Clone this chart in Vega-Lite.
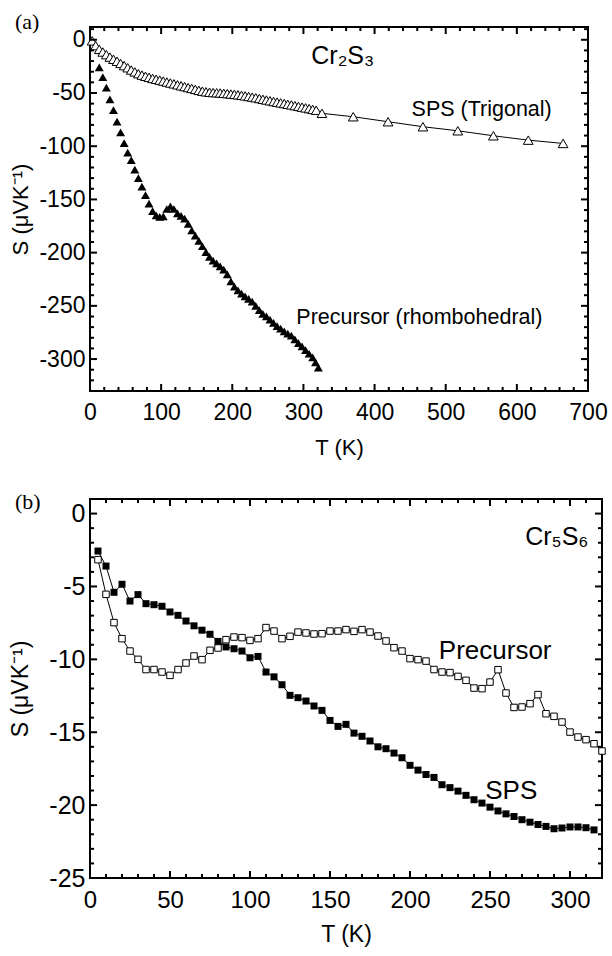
{
  "$schema": "https://vega.github.io/schema/vega-lite/v6.json",
  "background": "white",
  "padding": {"left": 8, "top": 10, "right": 5, "bottom": 5},
  "spacing": 31,
  "config": {
    "view": {"stroke": "black", "strokeWidth": 2},
    "axis": {
      "domain": false, "grid": false, "ticks": false,
      "labelFont": "Liberation Sans", "labelFontSize": 23, "labelColor": "black",
      "titleFont": "Liberation Sans", "titleFontSize": 22, "titleFontWeight": "normal", "titleColor": "black",
      "labelFlush": false, "labelOverlap": false, "labelBound": false
    },
    "title": {"font": "Liberation Serif", "fontSize": 22, "fontWeight": "normal", "color": "black", "anchor": "start", "frame": "bounds"}
  },
  "datasets": {
    "a_sps": [
      {"T": 3, "S": -1}, {"T": 8, "S": -5.5}, {"T": 13, "S": -9}, {"T": 18, "S": -11.5}, {"T": 23, "S": -14},
      {"T": 28, "S": -16.3}, {"T": 33, "S": -18.3}, {"T": 38, "S": -20.2}, {"T": 43, "S": -22.2}, {"T": 48, "S": -24.3},
      {"T": 53, "S": -26.3}, {"T": 58, "S": -28.4}, {"T": 63, "S": -30.2}, {"T": 68, "S": -31.9}, {"T": 73, "S": -33.2},
      {"T": 78, "S": -34.3}, {"T": 83, "S": -35.3}, {"T": 88, "S": -36.3}, {"T": 93, "S": -37.1}, {"T": 98, "S": -37.9},
      {"T": 103, "S": -38.8}, {"T": 108, "S": -39.7}, {"T": 113, "S": -40.6}, {"T": 118, "S": -41.4}, {"T": 123, "S": -42.3},
      {"T": 128, "S": -43.2}, {"T": 133, "S": -44.0}, {"T": 138, "S": -44.9}, {"T": 143, "S": -45.7}, {"T": 148, "S": -46.6},
      {"T": 153, "S": -47.5}, {"T": 158, "S": -48.3}, {"T": 163, "S": -48.9}, {"T": 168, "S": -49.3}, {"T": 173, "S": -49.6},
      {"T": 178, "S": -49.8}, {"T": 183, "S": -50.0}, {"T": 188, "S": -50.3}, {"T": 193, "S": -50.6}, {"T": 198, "S": -51.0},
      {"T": 203, "S": -51.3}, {"T": 208, "S": -51.7}, {"T": 213, "S": -52.2}, {"T": 218, "S": -52.7}, {"T": 223, "S": -53.3},
      {"T": 228, "S": -53.9}, {"T": 233, "S": -54.5}, {"T": 238, "S": -55.2}, {"T": 243, "S": -55.9}, {"T": 248, "S": -56.6},
      {"T": 253, "S": -57.3}, {"T": 258, "S": -58.0}, {"T": 263, "S": -58.6}, {"T": 268, "S": -59.3}, {"T": 273, "S": -59.9},
      {"T": 278, "S": -60.6}, {"T": 283, "S": -61.2}, {"T": 288, "S": -61.9}, {"T": 293, "S": -62.6}, {"T": 298, "S": -63.3},
      {"T": 303, "S": -64.0}, {"T": 308, "S": -64.7}, {"T": 313, "S": -65.4}, {"T": 318, "S": -66.2},
      {"T": 326, "S": -69.1}, {"T": 370, "S": -72.3}, {"T": 419, "S": -77.0}, {"T": 468, "S": -81.7},
      {"T": 517, "S": -85.5}, {"T": 567, "S": -90.2}, {"T": 616, "S": -94.3}, {"T": 665, "S": -97.4}
    ],
    "a_pre": [
      {"T": 13, "S": -26}, {"T": 18, "S": -35}, {"T": 23, "S": -45}, {"T": 28, "S": -56}, {"T": 33, "S": -66},
      {"T": 38, "S": -77}, {"T": 43, "S": -87}, {"T": 48, "S": -97}, {"T": 53, "S": -106}, {"T": 58, "S": -113},
      {"T": 63, "S": -122}, {"T": 68, "S": -130}, {"T": 73, "S": -138}, {"T": 78, "S": -146}, {"T": 83, "S": -154},
      {"T": 88, "S": -161}, {"T": 93, "S": -165}, {"T": 98, "S": -166.5}, {"T": 103, "S": -166}, {"T": 108, "S": -159},
      {"T": 113, "S": -156.5}, {"T": 118, "S": -159}, {"T": 123, "S": -163}, {"T": 128, "S": -165.5}, {"T": 133, "S": -168},
      {"T": 138, "S": -173}, {"T": 143, "S": -179}, {"T": 148, "S": -184}, {"T": 153, "S": -189}, {"T": 158, "S": -194},
      {"T": 163, "S": -199.5}, {"T": 168, "S": -204}, {"T": 173, "S": -207.5}, {"T": 178, "S": -210}, {"T": 183, "S": -213},
      {"T": 188, "S": -216}, {"T": 193, "S": -220.5}, {"T": 198, "S": -227}, {"T": 203, "S": -232}, {"T": 208, "S": -235.5},
      {"T": 213, "S": -238.5}, {"T": 218, "S": -241}, {"T": 223, "S": -243.5}, {"T": 228, "S": -246}, {"T": 233, "S": -250},
      {"T": 238, "S": -254}, {"T": 243, "S": -257.5}, {"T": 248, "S": -260}, {"T": 253, "S": -263}, {"T": 258, "S": -266},
      {"T": 263, "S": -269}, {"T": 268, "S": -271.5}, {"T": 273, "S": -274}, {"T": 278, "S": -276}, {"T": 283, "S": -278},
      {"T": 288, "S": -281.5}, {"T": 293, "S": -285}, {"T": 298, "S": -288}, {"T": 303, "S": -291.5}, {"T": 308, "S": -295},
      {"T": 313, "S": -298.5}, {"T": 317, "S": -303}, {"T": 321, "S": -308}
    ],
    "a_labels": [
      {"T": 311, "S": -15, "label": "Cr₂S₃", "size": 25},
      {"T": 452, "S": -66, "label": "SPS (Trigonal)", "size": 21.5},
      {"T": 290, "S": -261, "label": "Precursor (rhombohedral)", "size": 21.5}
    ],
    "a_xmaj": [{"v": 0}, {"v": 100}, {"v": 200}, {"v": 300}, {"v": 400}, {"v": 500}, {"v": 600}, {"v": 700}],
    "a_xmin": [{"v": 20}, {"v": 40}, {"v": 60}, {"v": 80}, {"v": 120}, {"v": 140}, {"v": 160}, {"v": 180}, {"v": 220}, {"v": 240}, {"v": 260}, {"v": 280}, {"v": 320}, {"v": 340}, {"v": 360}, {"v": 380}, {"v": 420}, {"v": 440}, {"v": 460}, {"v": 480}, {"v": 520}, {"v": 540}, {"v": 560}, {"v": 580}, {"v": 620}, {"v": 640}, {"v": 660}, {"v": 680}],
    "a_ymaj": [{"v": -300}, {"v": -250}, {"v": -200}, {"v": -150}, {"v": -100}, {"v": -50}, {"v": 0}],
    "a_ymin": [{"v": -320}, {"v": -310}, {"v": -290}, {"v": -280}, {"v": -270}, {"v": -260}, {"v": -240}, {"v": -230}, {"v": -220}, {"v": -210}, {"v": -190}, {"v": -180}, {"v": -170}, {"v": -160}, {"v": -140}, {"v": -130}, {"v": -120}, {"v": -110}, {"v": -90}, {"v": -80}, {"v": -70}, {"v": -60}, {"v": -40}, {"v": -30}, {"v": -20}, {"v": -10}, {"v": 10}],
    "b_sps": [
      {"T": 5, "S": -2.57}, {"T": 10, "S": -3.6}, {"T": 15, "S": -5.4}, {"T": 20, "S": -4.85}, {"T": 25, "S": -6.0},
      {"T": 30, "S": -5.56}, {"T": 35, "S": -6.18}, {"T": 40, "S": -6.25}, {"T": 45, "S": -6.36}, {"T": 50, "S": -6.75},
      {"T": 55, "S": -6.98}, {"T": 60, "S": -7.37}, {"T": 65, "S": -7.7}, {"T": 70, "S": -8.0}, {"T": 75, "S": -8.28},
      {"T": 80, "S": -8.77}, {"T": 85, "S": -9.15}, {"T": 90, "S": -9.27}, {"T": 95, "S": -9.43}, {"T": 100, "S": -9.89},
      {"T": 105, "S": -9.8}, {"T": 110, "S": -10.87}, {"T": 115, "S": -11.2}, {"T": 120, "S": -11.74}, {"T": 125, "S": -12.47},
      {"T": 130, "S": -12.63}, {"T": 135, "S": -12.86}, {"T": 140, "S": -13.2}, {"T": 145, "S": -13.5}, {"T": 150, "S": -14.19},
      {"T": 155, "S": -14.6}, {"T": 160, "S": -14.46}, {"T": 165, "S": -15.06}, {"T": 170, "S": -15.28}, {"T": 175, "S": -15.6},
      {"T": 180, "S": -16.0}, {"T": 185, "S": -16.13}, {"T": 190, "S": -16.43}, {"T": 195, "S": -16.75}, {"T": 200, "S": -17.27},
      {"T": 205, "S": -17.6}, {"T": 210, "S": -17.9}, {"T": 215, "S": -18.1}, {"T": 220, "S": -18.6}, {"T": 225, "S": -18.8},
      {"T": 230, "S": -19.04}, {"T": 235, "S": -19.33}, {"T": 240, "S": -19.63}, {"T": 245, "S": -19.86}, {"T": 250, "S": -20.14},
      {"T": 255, "S": -20.4}, {"T": 260, "S": -20.6}, {"T": 265, "S": -20.78}, {"T": 270, "S": -21.0}, {"T": 275, "S": -21.17},
      {"T": 280, "S": -21.33}, {"T": 285, "S": -21.46}, {"T": 290, "S": -21.62}, {"T": 295, "S": -21.57}, {"T": 300, "S": -21.5},
      {"T": 305, "S": -21.5}, {"T": 310, "S": -21.55}, {"T": 315, "S": -21.7}
    ],
    "b_pre": [
      {"T": 5, "S": -3.16}, {"T": 10, "S": -5.54}, {"T": 15, "S": -7.48}, {"T": 20, "S": -8.58}, {"T": 25, "S": -9.43},
      {"T": 30, "S": -10.0}, {"T": 35, "S": -10.7}, {"T": 40, "S": -10.7}, {"T": 45, "S": -10.87}, {"T": 50, "S": -11.1},
      {"T": 55, "S": -10.7}, {"T": 60, "S": -10.25}, {"T": 65, "S": -9.77}, {"T": 70, "S": -10.02}, {"T": 75, "S": -9.38},
      {"T": 80, "S": -9.22}, {"T": 85, "S": -8.65}, {"T": 90, "S": -8.47}, {"T": 95, "S": -8.51}, {"T": 100, "S": -8.7},
      {"T": 105, "S": -8.58}, {"T": 110, "S": -7.82}, {"T": 115, "S": -8.06}, {"T": 120, "S": -8.58}, {"T": 125, "S": -8.42},
      {"T": 130, "S": -8.13}, {"T": 135, "S": -8.19}, {"T": 140, "S": -8.26}, {"T": 145, "S": -8.24}, {"T": 150, "S": -8.06},
      {"T": 155, "S": -8.06}, {"T": 160, "S": -7.96}, {"T": 165, "S": -8.08}, {"T": 170, "S": -7.96}, {"T": 175, "S": -8.13},
      {"T": 180, "S": -8.4}, {"T": 185, "S": -8.74}, {"T": 190, "S": -9.2}, {"T": 195, "S": -9.43}, {"T": 200, "S": -9.95},
      {"T": 205, "S": -10.02}, {"T": 210, "S": -10.12}, {"T": 215, "S": -10.7}, {"T": 220, "S": -10.87}, {"T": 225, "S": -10.91},
      {"T": 230, "S": -11.17}, {"T": 235, "S": -11.44}, {"T": 240, "S": -11.97}, {"T": 245, "S": -12.01}, {"T": 250, "S": -11.56},
      {"T": 255, "S": -10.71}, {"T": 260, "S": -12.31}, {"T": 265, "S": -13.3}, {"T": 270, "S": -13.27}, {"T": 275, "S": -13.04},
      {"T": 280, "S": -12.42}, {"T": 285, "S": -13.73}, {"T": 290, "S": -13.91}, {"T": 295, "S": -14.3}, {"T": 300, "S": -14.99},
      {"T": 305, "S": -15.33}, {"T": 310, "S": -15.51}, {"T": 315, "S": -15.79}, {"T": 320, "S": -16.29}
    ],
    "b_labels": [
      {"T": 272, "S": -1.6, "label": "Cr₅S₆", "size": 25},
      {"T": 218, "S": -9.45, "label": "Precursor", "size": 26},
      {"T": 247, "S": -19.0, "label": "SPS", "size": 26}
    ],
    "b_xmaj": [{"v": 0}, {"v": 50}, {"v": 100}, {"v": 150}, {"v": 200}, {"v": 250}, {"v": 300}],
    "b_xmin": [{"v": 10}, {"v": 20}, {"v": 30}, {"v": 40}, {"v": 60}, {"v": 70}, {"v": 80}, {"v": 90}, {"v": 110}, {"v": 120}, {"v": 130}, {"v": 140}, {"v": 160}, {"v": 170}, {"v": 180}, {"v": 190}, {"v": 210}, {"v": 220}, {"v": 230}, {"v": 240}, {"v": 260}, {"v": 270}, {"v": 280}, {"v": 290}, {"v": 310}],
    "b_ymaj": [{"v": -25}, {"v": -20}, {"v": -15}, {"v": -10}, {"v": -5}, {"v": 0}],
    "b_ymin": [{"v": -24}, {"v": -23}, {"v": -22}, {"v": -21}, {"v": -19}, {"v": -18}, {"v": -17}, {"v": -16}, {"v": -14}, {"v": -13}, {"v": -12}, {"v": -11}, {"v": -9}, {"v": -8}, {"v": -7}, {"v": -6}, {"v": -4}, {"v": -3}, {"v": -2}, {"v": -1}]
  },
  "vconcat": [
    {
      "title": {"text": "(a)", "offset": -8, "dx": 6},
      "width": 498,
      "height": 364,
      "resolve": {"axis": {"x": "independent", "y": "independent"}},
      "layer": [
        {
          "data": {"name": "a_sps"},
          "mark": {"type": "line", "color": "black", "strokeWidth": 1},
          "encoding": {
            "x": {"field": "T", "type": "quantitative", "scale": {"domain": [0, 700], "nice": false, "zero": false},
              "axis": {"orient": "bottom", "title": "T (K)", "values": [0,100,200,300,400,500,600,700],
                "labelExpr": "'' + datum.value", "labelPadding": 10, "titleY": 63, "titleBaseline": "alphabetic"}},
            "y": {"field": "S", "type": "quantitative", "scale": {"domain": [-330, 12], "nice": false, "zero": false},
              "axis": {"orient": "left", "title": "S (μVK⁻¹)", "values": [-300,-250,-200,-150,-100,-50,0],
                "labelExpr": "'' + datum.value", "labelPadding": 5, "titleX": -63, "titleBaseline": "alphabetic"}}
          }
        },
        {
          "data": {"name": "a_sps"},
          "mark": {"type": "point", "shape": "triangle-up", "filled": true, "fill": "white", "stroke": "black", "strokeWidth": 1, "size": 95, "opacity": 1},
          "encoding": {"x": {"field": "T", "type": "quantitative", "axis": null}, "y": {"field": "S", "type": "quantitative", "axis": null}}
        },
        {
          "data": {"name": "a_pre"},
          "mark": {"type": "point", "shape": "triangle-up", "filled": true, "color": "black", "size": 80, "opacity": 1},
          "encoding": {"x": {"field": "T", "type": "quantitative", "axis": null}, "y": {"field": "S", "type": "quantitative", "axis": null}}
        },
        {
          "data": {"name": "a_labels"},
          "mark": {"type": "text", "align": "left", "baseline": "middle", "font": "Liberation Sans", "color": "black"},
          "encoding": {
            "x": {"field": "T", "type": "quantitative", "axis": null},
            "y": {"field": "S", "type": "quantitative", "axis": null},
            "text": {"field": "label"},
            "size": {"field": "size", "type": "quantitative", "scale": null}
          }
        },
        {"data": {"name": "a_xmaj"}, "mark": {"type": "rule", "color": "black", "strokeWidth": 2},
          "encoding": {"x": {"field": "v", "type": "quantitative", "axis": null}, "y": {"datum": -330, "type": "quantitative", "axis": null}, "y2": {"datum": -323.4}}},
        {"data": {"name": "a_xmaj"}, "mark": {"type": "rule", "color": "black", "strokeWidth": 2},
          "encoding": {"x": {"field": "v", "type": "quantitative", "axis": null}, "y": {"datum": 12, "type": "quantitative", "axis": null}, "y2": {"datum": 5.4}}},
        {"data": {"name": "a_xmin"}, "mark": {"type": "rule", "color": "black", "strokeWidth": 2},
          "encoding": {"x": {"field": "v", "type": "quantitative", "axis": null}, "y": {"datum": -330, "type": "quantitative", "axis": null}, "y2": {"datum": -326.2}}},
        {"data": {"name": "a_xmin"}, "mark": {"type": "rule", "color": "black", "strokeWidth": 2},
          "encoding": {"x": {"field": "v", "type": "quantitative", "axis": null}, "y": {"datum": 12, "type": "quantitative", "axis": null}, "y2": {"datum": 8.2}}},
        {"data": {"name": "a_ymaj"}, "mark": {"type": "rule", "color": "black", "strokeWidth": 2},
          "encoding": {"y": {"field": "v", "type": "quantitative", "axis": null}, "x": {"datum": 0, "type": "quantitative", "axis": null}, "x2": {"datum": 9.8}}},
        {"data": {"name": "a_ymaj"}, "mark": {"type": "rule", "color": "black", "strokeWidth": 2},
          "encoding": {"y": {"field": "v", "type": "quantitative", "axis": null}, "x": {"datum": 700, "type": "quantitative", "axis": null}, "x2": {"datum": 690.2}}},
        {"data": {"name": "a_ymin"}, "mark": {"type": "rule", "color": "black", "strokeWidth": 2},
          "encoding": {"y": {"field": "v", "type": "quantitative", "axis": null}, "x": {"datum": 0, "type": "quantitative", "axis": null}, "x2": {"datum": 5.6}}},
        {"data": {"name": "a_ymin"}, "mark": {"type": "rule", "color": "black", "strokeWidth": 2},
          "encoding": {"y": {"field": "v", "type": "quantitative", "axis": null}, "x": {"datum": 700, "type": "quantitative", "axis": null}, "x2": {"datum": 694.4}}}
      ]
    },
    {
      "title": {"text": "(b)", "offset": -16, "dx": 6},
      "width": 512,
      "height": 379,
      "resolve": {"axis": {"x": "independent", "y": "independent"}},
      "layer": [
        {
          "data": {"name": "b_pre"},
          "mark": {"type": "line", "color": "black", "strokeWidth": 1},
          "encoding": {
            "x": {"field": "T", "type": "quantitative", "scale": {"domain": [0, 320], "nice": false, "zero": false},
              "axis": {"orient": "bottom", "title": "T (K)", "values": [0,50,100,150,200,250,300],
                "labelExpr": "'' + datum.value", "labelPadding": 10, "labelFontSize": 24, "titleFontSize": 23, "titleY": 63, "titleBaseline": "alphabetic"}},
            "y": {"field": "S", "type": "quantitative", "scale": {"domain": [-25, 1], "nice": false, "zero": false},
              "axis": {"orient": "left", "title": "S (μVK⁻¹)", "values": [-25,-20,-15,-10,-5,0],
                "labelExpr": "'' + datum.value", "labelPadding": 5, "labelFontSize": 25, "titleFontSize": 23, "titleX": -63, "titleBaseline": "alphabetic"}}
          }
        },
        {
          "data": {"name": "b_sps"},
          "mark": {"type": "line", "color": "black", "strokeWidth": 1},
          "encoding": {"x": {"field": "T", "type": "quantitative", "axis": null}, "y": {"field": "S", "type": "quantitative", "axis": null}}
        },
        {
          "data": {"name": "b_sps"},
          "mark": {"type": "point", "shape": "square", "filled": true, "color": "black", "size": 49, "opacity": 1},
          "encoding": {"x": {"field": "T", "type": "quantitative", "axis": null}, "y": {"field": "S", "type": "quantitative", "axis": null}}
        },
        {
          "data": {"name": "b_pre"},
          "mark": {"type": "point", "shape": "square", "filled": true, "fill": "white", "stroke": "black", "strokeWidth": 1, "size": 42, "opacity": 1},
          "encoding": {"x": {"field": "T", "type": "quantitative", "axis": null}, "y": {"field": "S", "type": "quantitative", "axis": null}}
        },
        {
          "data": {"name": "b_labels"},
          "mark": {"type": "text", "align": "left", "baseline": "middle", "font": "Liberation Sans", "color": "black"},
          "encoding": {
            "x": {"field": "T", "type": "quantitative", "axis": null},
            "y": {"field": "S", "type": "quantitative", "axis": null},
            "text": {"field": "label"},
            "size": {"field": "size", "type": "quantitative", "scale": null}
          }
        },
        {"data": {"name": "b_xmaj"}, "mark": {"type": "rule", "color": "black", "strokeWidth": 2},
          "encoding": {"x": {"field": "v", "type": "quantitative", "axis": null}, "y": {"datum": -25, "type": "quantitative", "axis": null}, "y2": {"datum": -24.52}}},
        {"data": {"name": "b_xmaj"}, "mark": {"type": "rule", "color": "black", "strokeWidth": 2},
          "encoding": {"x": {"field": "v", "type": "quantitative", "axis": null}, "y": {"datum": 1, "type": "quantitative", "axis": null}, "y2": {"datum": 0.52}}},
        {"data": {"name": "b_xmin"}, "mark": {"type": "rule", "color": "black", "strokeWidth": 2},
          "encoding": {"x": {"field": "v", "type": "quantitative", "axis": null}, "y": {"datum": -25, "type": "quantitative", "axis": null}, "y2": {"datum": -24.73}}},
        {"data": {"name": "b_xmin"}, "mark": {"type": "rule", "color": "black", "strokeWidth": 2},
          "encoding": {"x": {"field": "v", "type": "quantitative", "axis": null}, "y": {"datum": 1, "type": "quantitative", "axis": null}, "y2": {"datum": 0.73}}},
        {"data": {"name": "b_ymaj"}, "mark": {"type": "rule", "color": "black", "strokeWidth": 2},
          "encoding": {"y": {"field": "v", "type": "quantitative", "axis": null}, "x": {"datum": 0, "type": "quantitative", "axis": null}, "x2": {"datum": 4.4}}},
        {"data": {"name": "b_ymaj"}, "mark": {"type": "rule", "color": "black", "strokeWidth": 2},
          "encoding": {"y": {"field": "v", "type": "quantitative", "axis": null}, "x": {"datum": 320, "type": "quantitative", "axis": null}, "x2": {"datum": 315.6}}},
        {"data": {"name": "b_ymin"}, "mark": {"type": "rule", "color": "black", "strokeWidth": 2},
          "encoding": {"y": {"field": "v", "type": "quantitative", "axis": null}, "x": {"datum": 0, "type": "quantitative", "axis": null}, "x2": {"datum": 2.5}}},
        {"data": {"name": "b_ymin"}, "mark": {"type": "rule", "color": "black", "strokeWidth": 2},
          "encoding": {"y": {"field": "v", "type": "quantitative", "axis": null}, "x": {"datum": 320, "type": "quantitative", "axis": null}, "x2": {"datum": 317.5}}}
      ]
    }
  ]
}
